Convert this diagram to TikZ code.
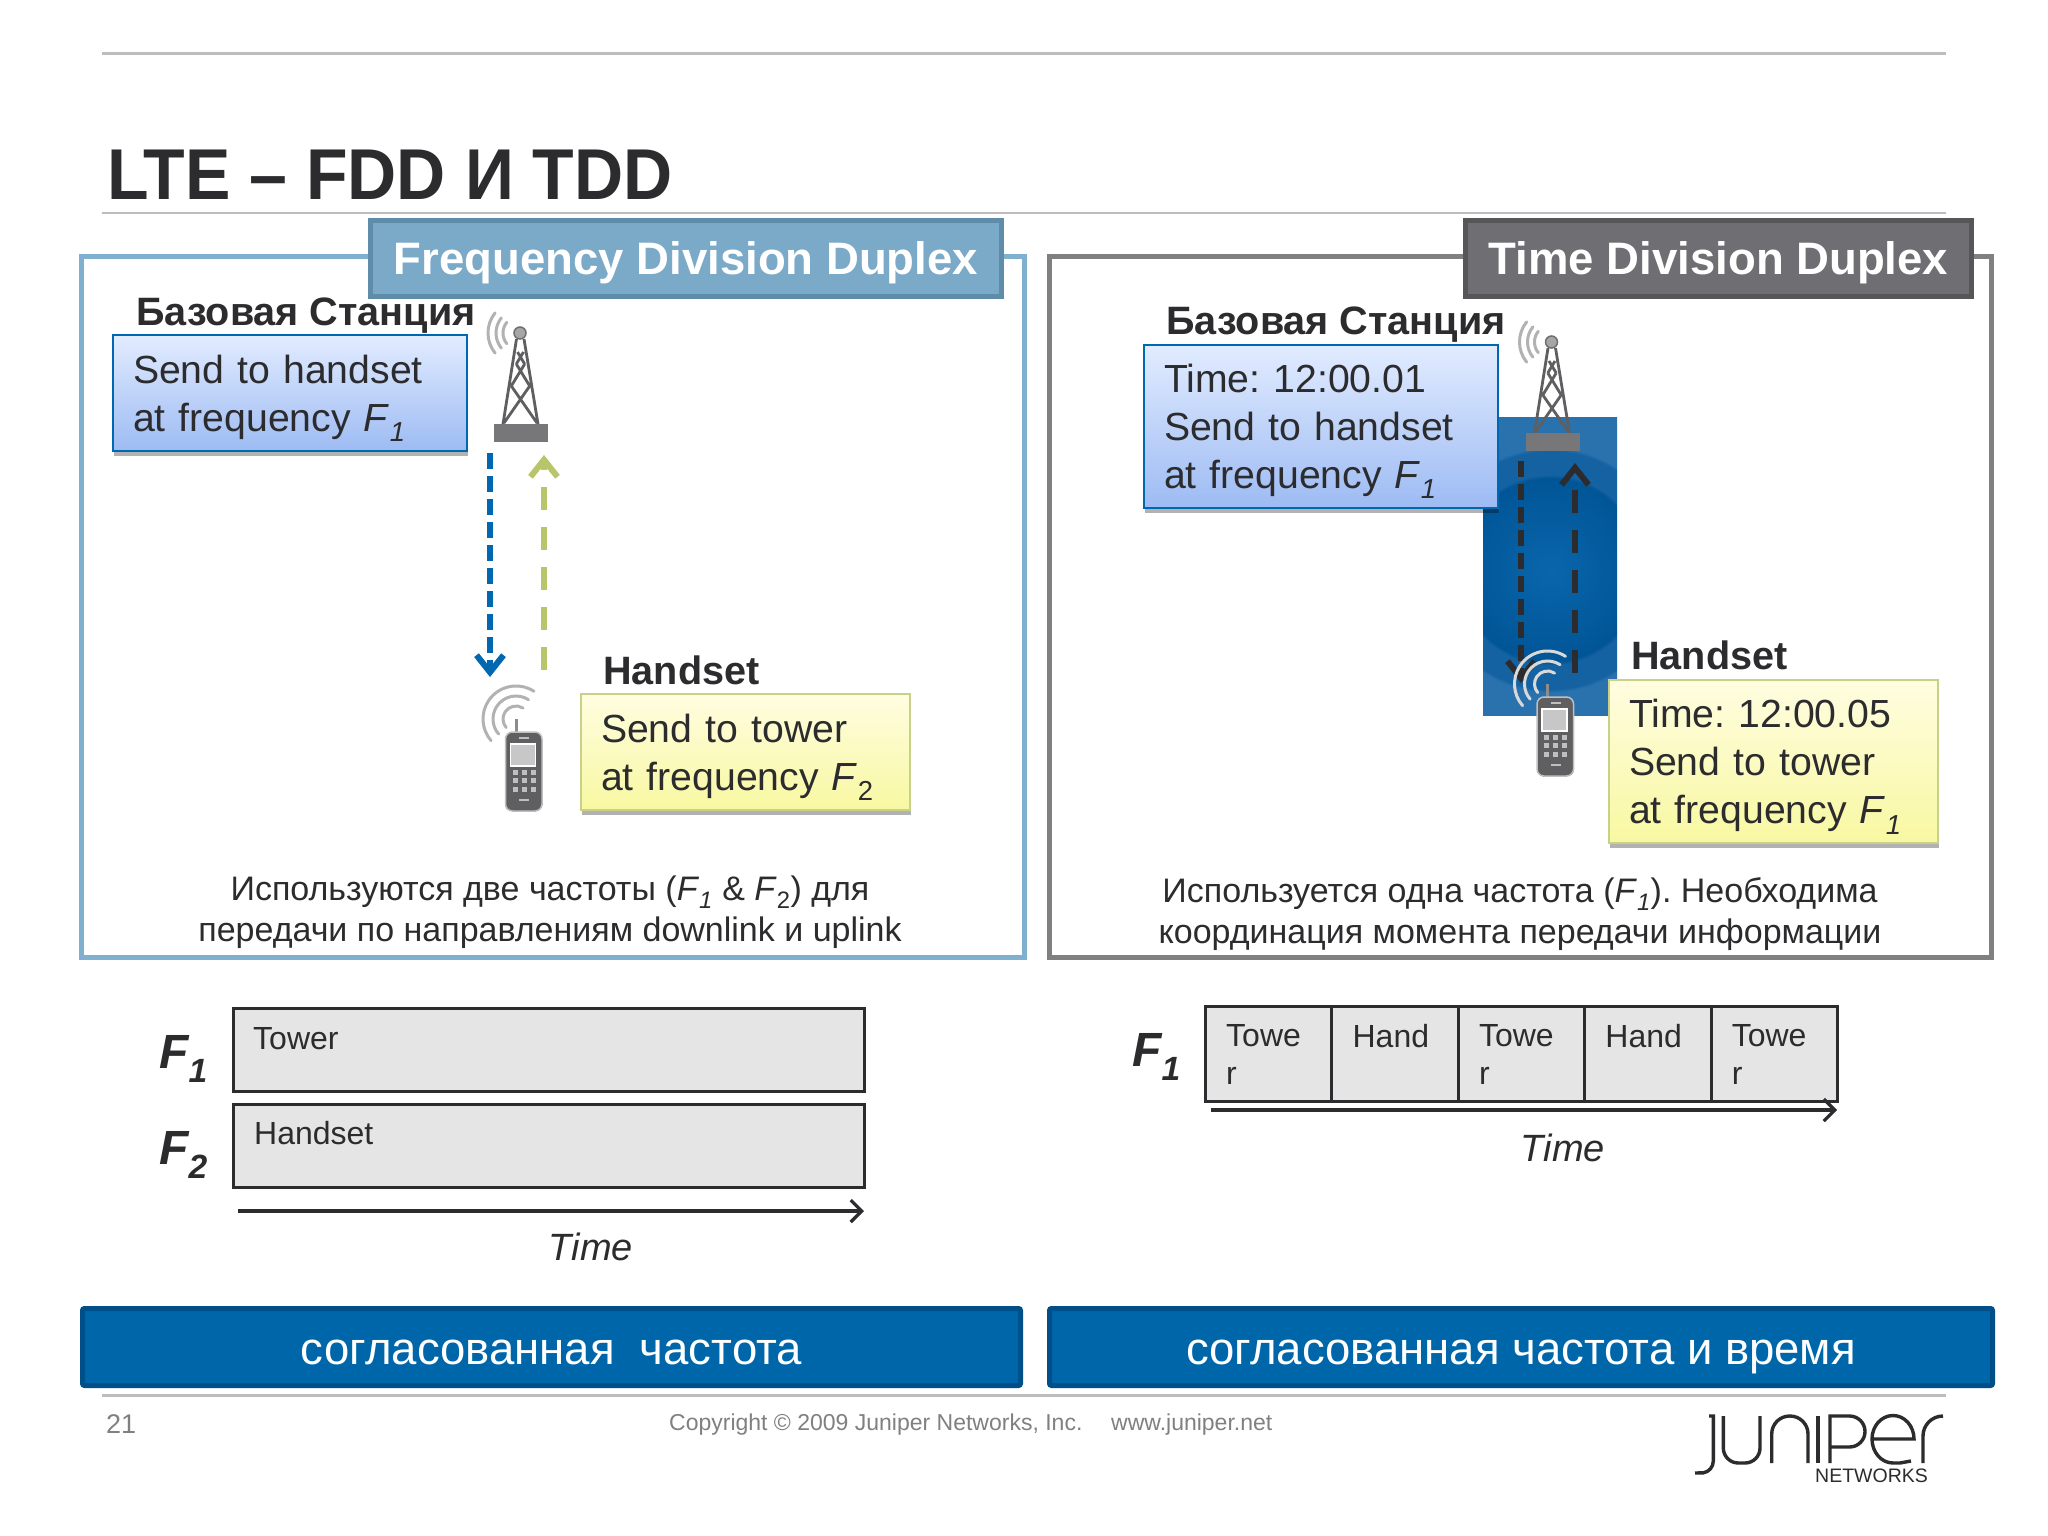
\documentclass[tikz,border=0pt]{standalone}
\usepackage{fontspec}
\setmainfont{Liberation Sans}
\newfontfamily\titlefont[FakeStretch=0.945]{Liberation Sans}
\usetikzlibrary{arrows.meta, shadows}
\definecolor{inkdark}{HTML}{2C2C2E}
\definecolor{rulegray}{HTML}{BDBDBD}
\definecolor{fddblue}{HTML}{7FB0CF}
\definecolor{fddtab}{HTML}{7BA9C8}
\definecolor{fddtabline}{HTML}{5F8CA8}
\definecolor{tddgray}{HTML}{808082}
\definecolor{tddtab}{HTML}{6F6F73}
\definecolor{tddtabline}{HTML}{565659}
\definecolor{barblue}{HTML}{0066AA}
\definecolor{barline}{HTML}{004F88}
\definecolor{arrowblue}{HTML}{0068B0}
\definecolor{arrowgreen}{HTML}{B9C56A}
\definecolor{footgray}{HTML}{808080}
\definecolor{iconbody}{HTML}{5F5F61}
\definecolor{bluetop}{HTML}{E2ECFF}
\definecolor{bluebot}{HTML}{9DBBF3}
\definecolor{yellowtop}{HTML}{FFFDE0}
\definecolor{yellowbot}{HTML}{F8F8A2}
\definecolor{glowa}{HTML}{0A66AC}
\definecolor{glowb}{HTML}{005596}
\definecolor{glowc}{HTML}{1462A2}
\definecolor{glowd}{HTML}{2A72AE}
\pgfdeclareradialshading{tddglow}{\pgfpoint{0bp}{0bp}}{
  color(0bp)=(glowa); color(13.5bp)=(glowb); color(14bp)=(glowc);
  color(17.5bp)=(glowc); color(18bp)=(glowd); color(50bp)=(glowd)}
\newcommand{\freq}[1]{\textit{F}\textsubscript{\textit{#1}}}
\newcommand{\freqb}[1]{\textit{F}\textsubscript{#1}}
\tikzset{
  txt/.style={anchor=base west, inner sep=0pt, text=inkdark},
  boxtxt/.style={font=\fontsize{39.2}{48}\selectfont, text=inkdark, align=left, anchor=north west, inner xsep=20pt, inner ysep=0pt,
    execute at begin node={\rule{0pt}{39pt}\ignorespaces}},
  softshadow/.style={drop shadow={shadow xshift=1pt, shadow yshift=-5pt, opacity=.3, fill=black}},
  bluebox/.style={boxtxt, draw=arrowblue, line width=2pt, top color=bluetop, bottom color=bluebot, softshadow},
  yellowbox/.style={boxtxt, draw=arrowgreen!80!white, line width=2pt, top color=yellowtop, bottom color=yellowbot, softshadow},
  headlbl/.style={txt, font=\fontsize{39.6}{39.6}\selectfont\bfseries},
  tabbox/.style={anchor=north west, inner sep=0pt, line width=5pt, text=white, text depth=0pt, font=\fontsize{45.5}{45.5}\selectfont\bfseries},
  note/.style={anchor=center, inner sep=0pt, align=center, text=inkdark, font=\fontsize{34}{41}\selectfont},
  slotbox/.style={anchor=north west, inner sep=0pt, draw=inkdark, line width=3pt, fill=black!10},
  slottxt/.style={anchor=north west, inner sep=0pt, align=left, text=inkdark, font=\fontsize{32}{38}\selectfont},
  flabel/.style={txt, font=\fontsize{48}{48}\selectfont\bfseries\itshape},
  timelbl/.style={anchor=base, inner sep=0pt, text=inkdark, font=\fontsize{38}{38}\selectfont\itshape},
  timearrow/.style={-{Straight Barb[length=11pt, width=22pt, line width=3.2pt]}, line width=3.2pt, draw=inkdark},
  barbox/.style={anchor=north west, inner sep=0pt, fill=barblue, draw=barline, line width=5pt, rounded corners=2pt,
    text=white, text height=35pt, text depth=0pt, font=\fontsize{45.5}{45.5}\selectfont},
  radiowave/.style={line width=3pt, line cap=round},
  downlink/.style={dash pattern=on 16pt off 7pt, line width=5.5pt,
    -{Straight Barb[length=17pt, width=27pt, line width=6pt]}},
  uplink/.style={dash pattern=on 23pt off 17pt, line width=5.5pt,
    -{Straight Barb[length=17pt, width=27pt, line width=6pt]}},
  towericon/.pic={
    \foreach \r in {17,24,32}
      \draw[radiowave, black!30] (141:\r) arc (141:219:\r);
    \draw[iconbody, line width=2.8pt]
      (-17,-91) -- (-3.5,-6) (18,-91) -- (4,-6)
      (-16,-90) -- (9.7,-53) (17,-90) -- (-8.7,-53)
      (-8.7,-53) -- (4.7,-31) (9.7,-53) -- (-3.7,-31)
      (4.7,-31) -- (-2.5,-19) (-3.7,-31) -- (3.5,-19);
    \fill[iconbody!85!white] (-26,-91) rectangle (28,-109);
    \draw[iconbody!90!white, fill=black!35, line width=1.5pt] (0,0) circle (6);
  },
  phoneicon/.pic={
    \foreach \r in {13,23,33}
      \draw[radiowave, #1] (57:\r) arc (57:221:\r);
    \draw[black!45, line width=3pt] (0,0) -- (0,-14);
    \draw[iconbody, fill=iconbody, rounded corners=7pt, line width=0pt] (-10.5,-13) rectangle (26,-92);
    \draw[black!25, rounded corners=7pt, line width=1.5pt] (-10.5,-13) rectangle (26,-92);
    \draw[white, fill=black!22, line width=1.5pt] (-5.5,-25) rectangle (19.5,-47);
    \draw[black!25, line width=1.5pt] (3,-19) -- (13,-19) (3,-81) -- (13,-81);
    \foreach \kx in {-1,8,17}
      \foreach \ky in {-53.7,-61.7,-70}
        \fill[black!25] (\kx,\ky) ++(-2.5,-2.5) rectangle ++(5,5);
  },
}
\begin{document}
\frenchspacing
\begin{tikzpicture}[x=1pt, y=1pt]
  \useasboundingbox (0,0) rectangle (2048,-1536);
  \fill[white] (0,0) rectangle (2048,-1536);

  % Slide rules and title
  \coordinate (topA) at (102,-53.5);
  \coordinate (topB) at (1946,-53.5);
  \coordinate (subA) at (102,-213);
  \coordinate (subB) at (1946,-213);
  \coordinate (footA) at (102,-1395);
  \coordinate (footB) at (1946,-1395);
  \draw[rulegray, line width=3pt] (topA) -- (topB);
  \draw[rulegray, line width=2.5pt] (subA) -- (subB);
  \draw[rulegray, line width=3pt] (footA) -- (footB);
  \node[txt, font=\fontsize{72}{72}\titlefont\bfseries] (title) at (107,-199) {LTE – FDD И TDD};

  % FDD panel
  \draw[fddblue, line width=5pt] (81,-256) rectangle (1024,-957);
  \node[tabbox, draw=fddtabline, fill=fddtab, minimum width=631pt, minimum height=75.5pt] (fddTab) at (368,-218) {Frequency Division Duplex};
  \node[headlbl] (fddHead) at (136,-325) {Базовая Станция};
  \node[bluebox, minimum width=354pt, minimum height=116pt, text width=314pt] (fddTower) at (112,-334) {Send to handset\\at frequency \freq{1}};
  \pic (fddMast) at (520,-333) {towericon};
  \coordinate (fddDownA) at (490,-453);
  \coordinate (fddDownB) at (490,-677);
  \coordinate (fddUpA) at (544,-670);
  \coordinate (fddUpB) at (544,-455);
  \draw[downlink, arrowblue] (fddDownA) -- (fddDownB);
  \draw[uplink, arrowgreen] (fddUpA) -- (fddUpB);
  \node[headlbl] (fddHand) at (603,-684) {Handset};
  \node[yellowbox, minimum width=329pt, minimum height=116pt, text width=289pt] (fddPhone) at (580,-693) {Send to tower\\at frequency \freqb{2}};
  \pic (fddSet) at (516,-719) {phoneicon=black!30};
  \node[note] (fddNote) at (550,-912) {Используются две частоты (\freq{1} \& \freqb{2}) для\\передачи по направлениям downlink и uplink};

  % TDD panel
  \draw[tddgray, line width=5pt] (1049,-256) rectangle (1991,-957);
  \node[tabbox, draw=tddtabline, fill=tddtab, minimum width=506pt, minimum height=75.5pt] (tddTab) at (1463,-218) {Time Division Duplex};
  \begin{scope}
    \clip (1483,-417) rectangle (1617,-715);
    \fill[glowd] (1483,-417) rectangle (1617,-715);
    \shade[shading=tddglow] (1550,-570) circle (170);
  \end{scope}
  \node[headlbl] (tddHead) at (1166,-334) {Базовая Станция};
  \pic (tddMast) at (1551.5,-342) {towericon};
  \node[bluebox, minimum width=354pt, minimum height=163pt, text width=314pt] (tddTower) at (1143,-343.5) {Time: 12:00.01\\Send to handset\\at frequency \freq{1}};
  \coordinate (tddDownA) at (1521,-461);
  \coordinate (tddDownB) at (1521,-683);
  \coordinate (tddUpA) at (1575,-673);
  \coordinate (tddUpB) at (1575,-463);
  \draw[downlink, inkdark] (tddDownA) -- (tddDownB);
  \draw[uplink, inkdark] (tddUpA) -- (tddUpB);
  \pic (tddSet) at (1547.5,-684) {phoneicon=black!15};
  \node[headlbl] (tddHand) at (1631,-669) {Handset};
  \node[yellowbox, minimum width=329pt, minimum height=163pt, text width=289pt] (tddPhone) at (1608,-679) {Time: 12:00.05\\Send to tower\\at frequency \freq{1}};
  \node[note] (tddNote) at (1520,-914) {Используется одна частота (\freq{1}). Необходима\\координация момента передачи информации};

  % FDD time slots
  \node[flabel] (fddFa) at (159,-1068) {F\textsubscript{1}};
  \node[flabel] (fddFb) at (159,-1164) {F\textsubscript{2}};
  \node[slotbox, minimum width=631pt, minimum height=83pt] (slotTower) at (231.5,-1007) {};
  \node[slotbox, minimum width=631pt, minimum height=83pt] (slotHand) at (231.5,-1102.5) {};
  \node[slottxt] (slotTowerTxt) at (253,-1027) {Tower};
  \node[slottxt] (slotHandTxt) at (254,-1121) {Handset};
  \coordinate (fddTimeA) at (238,-1211);
  \coordinate (fddTimeB) at (864,-1211);
  \draw[timearrow] (fddTimeA) -- (fddTimeB);
  \node[timelbl] (fddTime) at (591,-1260) {Time};

  % TDD time slots
  \node[flabel] (tddFa) at (1132,-1066) {F\textsubscript{1}};
  \foreach \i/\cx/\cw in {1/1204/Towe\\r, 2/1330.4/Hand, 3/1456.8/Towe\\r, 4/1583.2/Hand, 5/1709.6/Towe\\r} {
    \node[slotbox, minimum width=126.4pt, minimum height=95pt] (cell\i) at (\cx,-1005) {};
    \node[slottxt] (cellTxt\i) at (\cx+22,-1024) {\cw};
  }
  \coordinate (tddTimeA) at (1211,-1110);
  \coordinate (tddTimeB) at (1837,-1110);
  \draw[timearrow] (tddTimeA) -- (tddTimeB);
  \node[timelbl] (tddTime) at (1563,-1161) {Time};

  % Summary bars
  \node[barbox, minimum width=938pt, minimum height=77pt] (fddBar) at (80,-1306) {согласованная\ \ частота};
  \node[barbox, minimum width=943pt, minimum height=77pt] (tddBar) at (1047,-1306) {согласованная частота и время};

  % Footer
  \node[txt, text=footgray, font=\fontsize{27}{27}\selectfont] (pageNo) at (106,-1433) {21};
  \node[txt, text=footgray, font=\fontsize{23}{23}\selectfont] (copy) at (669,-1430) {Copyright © 2009 Juniper Networks, Inc.};
  \node[txt, text=footgray, font=\fontsize{23}{23}\selectfont] (web) at (1111,-1430) {www.juniper.net};

  % Logo
  \begin{scope}[inkdark, line width=3.4pt]
    \draw (1709,-1416) -- (1713.3,-1416) -- (1713.3,-1461) arc (0:-80:12) -- (1695,-1473);
    \draw (1723.3,-1416) -- (1723.3,-1448) arc (180:270:15) -- (1745,-1463) arc (270:360:15) -- (1760,-1416);
    \draw (1771.7,-1463) -- (1771.7,-1434) arc (180:90:18) -- (1790,-1416) arc (90:0:18) -- (1808,-1463);
    \draw (1818,-1416) -- (1818,-1463);
    \draw (1830,-1463) -- (1830,-1416) -- (1849.5,-1416) arc (90:-90:15.5) -- (1830,-1447);
    \draw (1872,-1439) -- (1914,-1439) arc (0:180:21 and 23.5) arc (180:270:21 and 24) -- (1900,-1463) -- (1911,-1461);
    \draw (1923,-1463) -- (1923,-1436) arc (180:90:20) -- (1943,-1416);
  \end{scope}
  \node[txt, font=\fontsize{19.5}{19.5}\selectfont] (logoTxt) at (1815,-1482) {NETWORKS};
\end{tikzpicture}
\end{document}
